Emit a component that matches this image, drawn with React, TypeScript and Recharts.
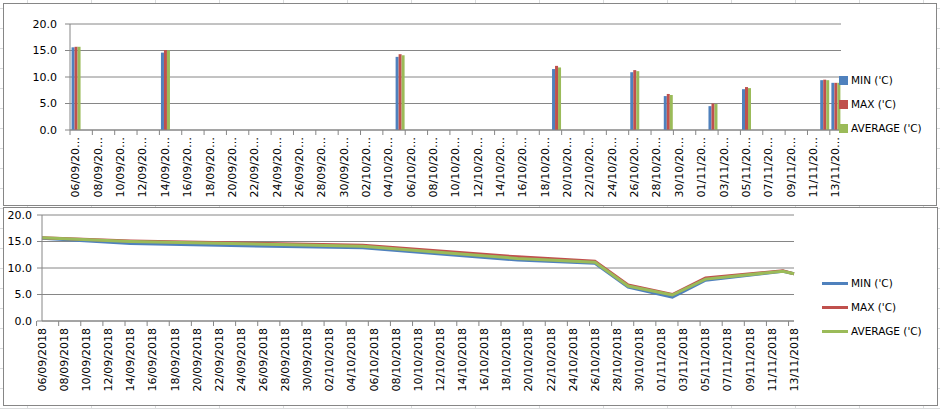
import React from "react";
import {
  BarChart,
  Bar,
  LineChart,
  Line,
  XAxis,
  YAxis,
  CartesianGrid,
} from "recharts";

// measurement days (others in the range have no reading)
const readingDates = [
  "06/09/2018",
  "14/09/2018",
  "05/10/2018",
  "19/10/2018",
  "26/10/2018",
  "29/10/2018",
  "02/11/2018",
  "05/11/2018",
  "12/11/2018",
  "13/11/2018",
];
const minTemp = [15.6, 14.6, 13.8, 11.5, 10.9, 6.4, 4.5, 7.7, 9.4, 8.9];
const maxTemp = [15.7, 15.1, 14.3, 12.1, 11.3, 6.8, 5.0, 8.1, 9.5, 8.9];
const avgTemp = [15.7, 15.0, 14.1, 11.8, 11.1, 6.6, 4.9, 7.9, 9.4, 8.9];

const firstDay = "06/09/2018";
const lastDay = "13/11/2018";
const yTicks = [0, 5, 10, 15, 20];

const seriesNames = ["MIN ('C)", "MAX ('C)", "AVERAGE ('C)"];
const colors = ["#4F81BD", "#C0504D", "#9BBB59"];

const FONT = "DejaVu Sans";
const AXIS = "#868686";

// daily date axis, like Excel's date axis
function parse(d: string) {
  const [dd, mm, yy] = d.split("/").map(Number);
  return Date.UTC(yy, mm - 1, dd);
}
function fmt(t: number) {
  const d = new Date(t);
  const p = (n: number) => String(n).padStart(2, "0");
  return `${p(d.getUTCDate())}/${p(d.getUTCMonth() + 1)}/${d.getUTCFullYear()}`;
}
const days: string[] = [];
for (let t = parse(firstDay); t <= parse(lastDay); t += 86400000) days.push(fmt(t));

const data = days.map((date) => {
  const i = readingDates.indexOf(date);
  return {
    date,
    min: i >= 0 ? minTemp[i] : null,
    max: i >= 0 ? maxTemp[i] : null,
    avg: i >= 0 ? avgTemp[i] : null,
  };
});

function DateTick(props: any) {
  const { x, y, payload, half, short } = props;
  const label = short ? payload.value.slice(0, 8) + "…" : payload.value;
  const ty = y + 7;
  return (
    <g>
      <line x1={x - half} x2={x - half} y1={y} y2={y + 5} stroke={AXIS} />
      <text
        x={x}
        y={ty}
        transform={`rotate(-90 ${x} ${ty})`}
        textAnchor="end"
        dy="0.35em"
        fontSize={11}
        fontFamily={FONT}
        fill="#000"
      >
        {label}
      </text>
    </g>
  );
}

// Excel-style legend, placed by hand to the right of the plot
function BoxLegend({ line, left, top }: { line?: boolean; left: number; top: number }) {
  return (
    <div
      style={{
        position: "absolute",
        left,
        top,
        fontFamily: FONT,
        fontSize: 10.5,
        color: "#000",
      }}
    >
      {seriesNames.map((name, i) => (
        <div
          key={name}
          style={{ height: 24, display: "flex", alignItems: "center", whiteSpace: "nowrap" }}
        >
          <span
            style={{
              display: "inline-block",
              width: line ? 26 : 9,
              height: line ? 3 : 9,
              background: colors[i],
              marginRight: 3,
            }}
          />
          {name}
        </div>
      ))}
    </div>
  );
}

const tickStyle = { fontSize: 11, fill: "#000", fontFamily: FONT };

export default function App() {
  const topHalf = (841 - 70) / days.length / 2;
  const botHalf = (794 - 42) / days.length / 2;
  return (
    <div
      style={{
        position: "absolute",
        left: 0,
        top: 0,
        width: 940,
        height: 409,
        overflow: "hidden",
        background: "#fff",
        backgroundImage:
          "linear-gradient(to right, #dadcdd 1px, transparent 1px), linear-gradient(to bottom, #dadcdd 1px, transparent 1px)",
        backgroundSize: "64px 20px",
        backgroundPosition: "27px 8px",
      }}
    >
      {/* chart frames */}
      <div
        style={{
          position: "absolute",
          left: 3,
          top: 3,
          width: 934,
          height: 203,
          background: "#fff",
          border: `1px solid ${AXIS}`,
          boxSizing: "border-box",
        }}
      />
      <div
        style={{
          position: "absolute",
          left: 3,
          top: 207,
          width: 935,
          height: 199,
          background: "#fff",
          border: `1px solid ${AXIS}`,
          boxSizing: "border-box",
        }}
      />

      {/* top: daily bars */}
      <div style={{ position: "absolute", left: 0, top: 0 }}>
        <BarChart
          width={940}
          height={206}
          data={data}
          margin={{ top: 24, right: 99, left: 30, bottom: 0 }}
          barCategoryGap="14%"
          barGap={0}
        >
          <CartesianGrid vertical={false} stroke={AXIS} />
          <XAxis
            dataKey="date"
            interval={1}
            height={76}
            tickSize={0}
            tickMargin={0}
            axisLine={{ stroke: AXIS }}
            tick={(p: any) => <DateTick {...p} half={topHalf} short />}
          />
          <YAxis
            width={40}
            domain={[0, 20]}
            ticks={yTicks}
            tickFormatter={(v: number) => v.toFixed(1)}
            tick={tickStyle}
            tickSize={5}
            tickMargin={8}
            axisLine={{ stroke: AXIS }}
            tickLine={{ stroke: AXIS }}
          />
          <Bar dataKey="min" name={seriesNames[0]} fill={colors[0]} isAnimationActive={false} />
          <Bar dataKey="max" name={seriesNames[1]} fill={colors[1]} isAnimationActive={false} />
          <Bar dataKey="avg" name={seriesNames[2]} fill={colors[2]} isAnimationActive={false} />
        </BarChart>
      </div>
      <BoxLegend left={839} top={68} />

      {/* bottom: lines */}
      <div style={{ position: "absolute", left: 0, top: 205 }}>
        <LineChart
          width={940}
          height={204}
          data={data}
          margin={{ top: 10, right: 146, left: 10, bottom: 0 }}
        >
          <CartesianGrid vertical={false} stroke={AXIS} />
          <XAxis
            dataKey="date"
            interval={1}
            height={88}
            tickSize={0}
            tickMargin={0}
            axisLine={{ stroke: AXIS }}
            tick={(p: any) => <DateTick {...p} half={botHalf} />}
          />
          <YAxis
            width={32}
            domain={[0, 20]}
            ticks={yTicks}
            tickFormatter={(v: number) => v.toFixed(1)}
            tick={tickStyle}
            tickSize={5}
            tickMargin={5}
            axisLine={{ stroke: AXIS }}
            tickLine={{ stroke: AXIS }}
          />
          <Line
            type="linear"
            dataKey="min"
            name={seriesNames[0]}
            stroke={colors[0]}
            strokeWidth={3}
            dot={false}
            activeDot={false}
            connectNulls
            isAnimationActive={false}
          />
          <Line
            type="linear"
            dataKey="max"
            name={seriesNames[1]}
            stroke={colors[1]}
            strokeWidth={3}
            dot={false}
            activeDot={false}
            connectNulls
            isAnimationActive={false}
          />
          <Line
            type="linear"
            dataKey="avg"
            name={seriesNames[2]}
            stroke={colors[2]}
            strokeWidth={3}
            dot={false}
            activeDot={false}
            connectNulls
            isAnimationActive={false}
          />
        </LineChart>
      </div>
      <BoxLegend line left={822} top={271} />
    </div>
  );
}
